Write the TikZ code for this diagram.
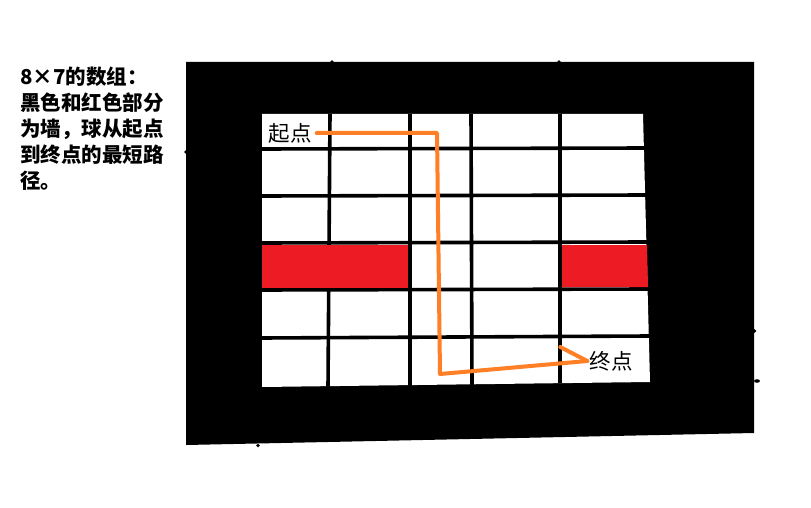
\documentclass[tikz,border=0pt]{standalone}
\usepackage{fontspec}
\newfontfamily\cjk{Noto Sans CJK SC}
\definecolor{paintred}{HTML}{ED1C24}
\definecolor{paintorange}{HTML}{FF7F27}
\begin{document}
\begin{tikzpicture}[x=1pt,y=-1pt,
  gridline/.style={line width=3.6pt,black},
  route/.style={line width=4pt,paintorange,line cap=round,line join=round},
  lbl/.style={inner sep=0pt,font=\cjk\fontsize{21.5}{24}\selectfont},
  note/.style={anchor=west,inner sep=0pt,font=\cjk\bfseries\fontsize{20.5}{24}\selectfont},
  tick/.style={black}]
\useasboundingbox (0,0) rectangle (811,508);
% outer walls
\fill[black] (186,62) -- (754,62) -- (754,433) -- (186,445) -- cycle;
% free cells
\fill[white] (262,114) -- (643,114) -- (650,382) -- (262,387) -- cycle;
% grid lines
\draw[gridline] (262,149) -- (646,148);
\draw[gridline] (262,196) -- (647,195);
\draw[gridline] (262,243) -- (647,242);
\draw[gridline] (262,290) -- (648,289);
\draw[gridline] (262,338) -- (649,336);
\draw[gridline] (330,114) -- (328,387);
\draw[gridline] (410,114) -- (410,386);
\draw[gridline] (471,114) -- (472,385);
\draw[gridline] (560,114) -- (560,383);
% red walls
\fill[paintred] (262,245) rectangle (408,288);
\fill[paintred] (562,245) -- (647,245) -- (648,287) -- (562,287) -- cycle;
% small stubs on the frame
\fill[tick] (186,152) circle (1.8);
\fill[tick] (332,62) circle (1.8);
\fill[tick] (559,62) circle (1.8);
\fill[tick] (754.5,331) circle (1.8);
\fill[tick] (757,381) ellipse (3 and 1.8);
\fill[tick] (258,445.5) circle (1.8);
% labels
\node[lbl] (start) at (290,133) {起点};
\node[lbl] (goal) at (611,361) {终点};
% route
\coordinate (c1) at (437,133);
\coordinate (c2) at (440,374);
\draw[route] ([xshift=5pt]start.east) -- (c1) -- (c2) -- ([xshift=-2pt]goal.west);
\draw[route] ([xshift=-2pt]goal.west) -- ++(-27,-14);
% description
\node[note] (t1) at (20,77) {8×7的数组：};
\node[note] (t2) at (20,103) {黑色和红色部分};
\node[note] (t3) at (20,129) {为墙，球从起点};
\node[note] (t4) at (20,155) {到终点的最短路};
\node[note] (t5) at (20,181) {径。};
\end{tikzpicture}
\end{document}
